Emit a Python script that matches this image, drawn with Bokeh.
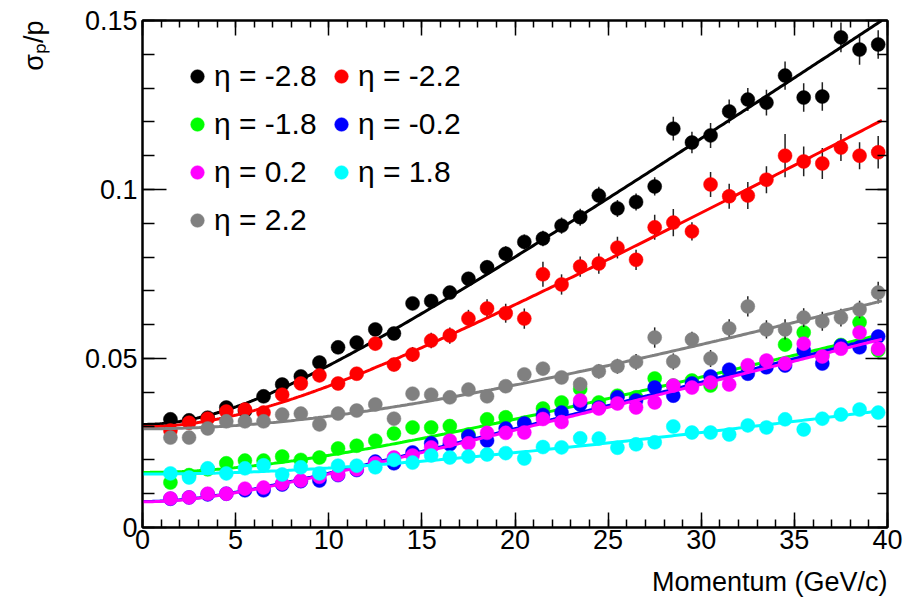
import math
import numpy as np
from bokeh.plotting import figure
from bokeh.models import (Range1d, FixedTicker, LinearAxis, Legend, LegendItem,
                          CustomJSTickFormatter)
from bokeh.embed import file_html
from bokeh.resources import INLINE

# ---------------- data ----------------
momentum = [1.5 + i for i in range(39)]

eta_m28 = [0.0320, 0.0317, 0.0325, 0.0355, 0.0345, 0.0388, 0.0423, 0.0447, 0.0488, 0.0533,
           0.0547, 0.0586, 0.0574, 0.0663, 0.0670, 0.0695, 0.0736, 0.0770, 0.0810, 0.0845,
           0.0855, 0.0893, 0.0918, 0.0982, 0.0944, 0.0963, 0.1009, 0.1180, 0.1139, 0.1160,
           0.1231, 0.1266, 0.1257, 0.1337, 0.1272, 0.1275, 0.1450, 0.1414, 0.1429]
err_m28 = [0.0006, 0.0006, 0.0007, 0.0008, 0.0008, 0.0009, 0.0010, 0.0011, 0.0012, 0.0013,
           0.0014, 0.0015, 0.0016, 0.0017, 0.0018, 0.0019, 0.0020, 0.0021, 0.0022, 0.0022,
           0.0023, 0.0024, 0.0025, 0.0026, 0.0025, 0.0025, 0.0027, 0.0035, 0.0032, 0.0037,
           0.0035, 0.0034, 0.0038, 0.0042, 0.0042, 0.0042, 0.0044, 0.0045, 0.0042]

eta_m22 = [0.0287, 0.0310, 0.0322, 0.0343, 0.0349, 0.0340, 0.0393, 0.0426, 0.0450, 0.0426,
           0.0455, 0.0544, 0.0482, 0.0512, 0.0553, 0.0568, 0.0618, 0.0648, 0.0634, 0.0618,
           0.0749, 0.0719, 0.0772, 0.0781, 0.0828, 0.0792, 0.0888, 0.0902, 0.0876, 0.1015,
           0.0980, 0.0982, 0.1029, 0.1100, 0.1083, 0.1077, 0.1124, 0.1100, 0.1110]
err_m22 = [0.0006, 0.0007, 0.0008, 0.0009, 0.0010, 0.0011, 0.0012, 0.0013, 0.0015, 0.0016,
           0.0017, 0.0019, 0.0020, 0.0022, 0.0023, 0.0024, 0.0026, 0.0027, 0.0028, 0.0030,
           0.0037, 0.0030, 0.0030, 0.0030, 0.0032, 0.0030, 0.0037, 0.0040, 0.0027, 0.0037,
           0.0037, 0.0040, 0.0040, 0.0064, 0.0044, 0.0046, 0.0040, 0.0040, 0.0048]

eta_m18 = [0.0133, 0.0155, 0.0172, 0.0190, 0.0198, 0.0198, 0.0210, 0.0200, 0.0207, 0.0234,
           0.0242, 0.0257, 0.0278, 0.0296, 0.0296, 0.0300, 0.0275, 0.0320, 0.0326, 0.0310,
           0.0352, 0.0370, 0.0410, 0.0370, 0.0390, 0.0385, 0.0441, 0.0420, 0.0435, 0.0420,
           0.0460, 0.0470, 0.0485, 0.0541, 0.0577, 0.0510, 0.0540, 0.0607, 0.0524]

eta_m02 = [0.0085, 0.0089, 0.0098, 0.0100, 0.0110, 0.0110, 0.0127, 0.0137, 0.0139, 0.0155,
           0.0170, 0.0195, 0.0190, 0.0222, 0.0249, 0.0246, 0.0270, 0.0257, 0.0293, 0.0308,
           0.0333, 0.0340, 0.0364, 0.0355, 0.0385, 0.0376, 0.0414, 0.0390, 0.0426, 0.0447,
           0.0467, 0.0455, 0.0474, 0.0479, 0.0524, 0.0485, 0.0538, 0.0533, 0.0565]

eta_p02 = [0.0086, 0.0089, 0.0100, 0.0100, 0.0115, 0.0118, 0.0130, 0.0139, 0.0150, 0.0157,
           0.0172, 0.0190, 0.0207, 0.0213, 0.0237, 0.0257, 0.0249, 0.0280, 0.0280, 0.0281,
           0.0321, 0.0312, 0.0376, 0.0352, 0.0367, 0.0355, 0.0370, 0.0420, 0.0414, 0.0429,
           0.0423, 0.0480, 0.0494, 0.0485, 0.0544, 0.0506, 0.0529, 0.0577, 0.0529]

eta_p18 = [0.0160, 0.0148, 0.0175, 0.0160, 0.0175, 0.0184, 0.0157, 0.0178, 0.0160, 0.0183,
           0.0183, 0.0178, 0.0200, 0.0192, 0.0213, 0.0207, 0.0210, 0.0216, 0.0220, 0.0204,
           0.0238, 0.0237, 0.0264, 0.0263, 0.0236, 0.0246, 0.0252, 0.0299, 0.0281, 0.0281,
           0.0275, 0.0302, 0.0296, 0.0320, 0.0290, 0.0322, 0.0334, 0.0349, 0.0340]

eta_p22 = [0.0266, 0.0266, 0.0293, 0.0314, 0.0314, 0.0314, 0.0334, 0.0337, 0.0305, 0.0337,
           0.0346, 0.0364, 0.0322, 0.0396, 0.0393, 0.0385, 0.0408, 0.0388, 0.0418, 0.0453,
           0.0470, 0.0444, 0.0424, 0.0462, 0.0477, 0.0490, 0.0562, 0.0491, 0.0556, 0.0500,
           0.0589, 0.0654, 0.0586, 0.0586, 0.0621, 0.0610, 0.0621, 0.0645, 0.0695]
err_p22 = [0.0005, 0.0005, 0.0006, 0.0006, 0.0007, 0.0007, 0.0008, 0.0008, 0.0009, 0.0009,
           0.0010, 0.0011, 0.0011, 0.0012, 0.0013, 0.0013, 0.0014, 0.0015, 0.0016, 0.0017,
           0.0018, 0.0019, 0.0020, 0.0021, 0.0022, 0.0023, 0.0030, 0.0024, 0.0023, 0.0025,
           0.0027, 0.0030, 0.0027, 0.0030, 0.0028, 0.0028, 0.0026, 0.0026, 0.0032]

err_small = [0.0004, 0.0004, 0.0004, 0.0005, 0.0005, 0.0005, 0.0006, 0.0006, 0.0006, 0.0007,
             0.0007, 0.0007, 0.0008, 0.0008, 0.0008, 0.0009, 0.0009, 0.0009, 0.0010, 0.0010,
             0.0010, 0.0011, 0.0011, 0.0011, 0.0012, 0.0012, 0.0012, 0.0013, 0.0013, 0.0013,
             0.0014, 0.0014, 0.0014, 0.0015, 0.0015, 0.0015, 0.0016, 0.0016, 0.0017]

# fit parameters  sigma/p = a (+) b*p
series = [
    ("η = -2.8", eta_m28, err_m28, "#000000", 0.0305, 0.00370),
    ("η = -2.2", eta_m22, err_m22, "#ff0000", 0.0298, 0.00294),
    ("η = -1.8", eta_m18, err_small, "#00ff00", 0.0163, 0.00138),
    ("η = -0.2", eta_m02, err_small, "#0000ff", 0.0077, 0.00141),
    ("η = 0.2", eta_p02, err_small, "#ff00ff", 0.0076, 0.00139),
    ("η = 1.8", eta_p18, err_small, "#00ffff", 0.0158, 0.000775),
    ("η = 2.2", eta_p22, err_p22, "#808080", 0.0292, 0.00152),
]

x_major = [0, 5, 10, 15, 20, 25, 30, 35, 40]
x_minor = list(range(41))
y_major = [0, 0.05, 0.1, 0.15]
y_minor = [i / 100 for i in range(16)]

X_TITLE = "Momentum (GeV/c)"
Y_TITLE = "σₚ/p"
FONT = "Liberation Sans"

# ---------------- figure ----------------
p = figure(width=908, height=614, x_range=Range1d(0, 40), y_range=Range1d(0, 0.15),
           output_backend="svg", toolbar_location=None,
           min_border_left=141, min_border_right=21, min_border_top=20, min_border_bottom=87,
           background_fill_color="white", border_fill_color="white")
p.grid.visible = False
p.outline_line_color = "black"
p.outline_line_width = 2

xt = FixedTicker(ticks=x_major, minor_ticks=x_minor)
yt = FixedTicker(ticks=y_major, minor_ticks=y_minor)

xa = p.xaxis[0]
xa.ticker = xt
ya = p.yaxis[0]
ya.ticker = yt
ya.formatter = CustomJSTickFormatter(code=r"return tick.toFixed(2).replace(/0+$/, '').replace(/\.$/, '');")

for ax, tin, mtin in [(xa, 15, 8), (ya, 24, 12)]:
    ax.axis_line_width = 2
    ax.major_tick_in = tin
    ax.major_tick_out = 0
    ax.minor_tick_in = mtin
    ax.minor_tick_out = 0
    ax.major_tick_line_width = 1.5
    ax.minor_tick_line_width = 1.5
    ax.major_label_text_font = FONT
    ax.major_label_text_font_size = "27px"
    ax.major_label_text_color = "black"
    ax.axis_label_text_font = FONT
    ax.axis_label_text_font_size = "27px"
    ax.axis_label_text_font_style = "normal"
    ax.axis_label_text_color = "black"
    ax.axis_label_align = "end"
xa.major_label_standoff = 2
ya.major_label_standoff = 5
xa.axis_label = X_TITLE
ya.axis_label = Y_TITLE
xa.axis_label_orientation = 1e-6
ya.axis_label_orientation = math.pi / 2
xa.axis_label_standoff = 30
ya.axis_label_standoff = 48

empty = CustomJSTickFormatter(code="return '';")
top = LinearAxis(ticker=xt, formatter=empty, major_tick_in=15, major_tick_out=0,
                 minor_tick_in=7, minor_tick_out=0, major_tick_line_width=1.5,
                 minor_tick_line_width=1.5, major_label_text_font_size="1px",
                 major_label_standoff=0, axis_line_width=2)
right = LinearAxis(ticker=yt, formatter=empty, major_tick_in=22, major_tick_out=0,
                   minor_tick_in=10, minor_tick_out=0, major_tick_line_width=1.5,
                   minor_tick_line_width=1.5, major_label_text_font_size="1px",
                   major_label_standoff=0, axis_line_width=2)
p.add_layout(top, "above")
p.add_layout(right, "right")

fit_x = np.linspace(0, 39.7, 300)
scatter_r = {}
for name, vals, errs, col, a, b in series:
    v = np.array(vals)
    e = np.array(errs)
    p.segment(x0=momentum, y0=v - e, x1=momentum, y1=v + e, line_color="#222222", line_width=1.5)
    r = p.scatter(momentum, vals, size=14, fill_color=col, line_color=col, line_width=0.5)
    scatter_r[name] = r
    p.line(fit_x, np.sqrt(a ** 2 + (b * fit_x) ** 2), line_color=col, line_width=3)

def make_legend(names, loc):
    lg = Legend(items=[LegendItem(label=n, renderers=[scatter_r[n]]) for n in names],
                location=loc, orientation="vertical", glyph_width=34, glyph_height=34,
                label_height=34, spacing=14, padding=0, margin=0, label_standoff=0,
                border_line_color=None, background_fill_alpha=0,
                label_text_font=FONT, label_text_font_size="30px", label_text_color="black")
    p.add_layout(lg)

make_legend(["η = -2.8", "η = -1.8", "η = 0.2", "η = 2.2"], (38, 290))
make_legend(["η = -2.2", "η = -0.2", "η = 1.8"], (182, 338))

open("out.html", "w").write(file_html(p, INLINE))
